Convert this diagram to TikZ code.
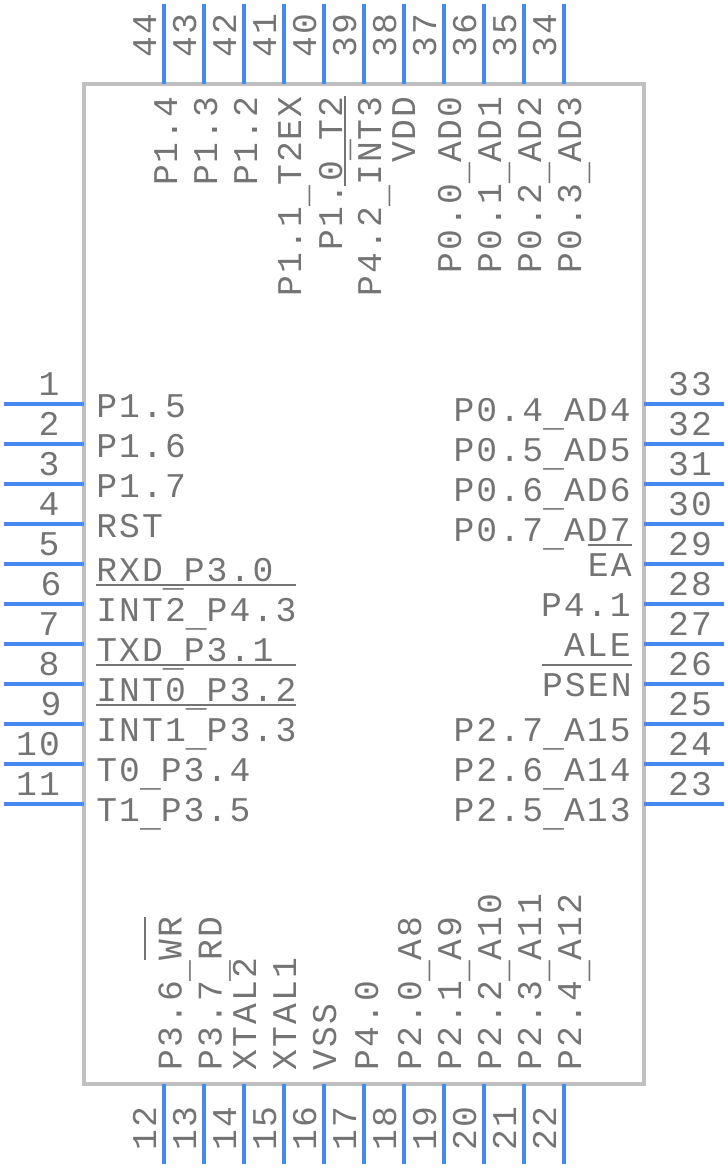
\documentclass[tikz,border=0pt]{standalone}
\usepackage{fontspec}
\setmainfont[LetterSpace=6.2]{Liberation Mono}
\definecolor{pinblue}{HTML}{4488F0}
\definecolor{bodygray}{HTML}{C0C0C0}
\definecolor{textgray}{HTML}{747474}
\newcommand{\barred}[2][26.5pt]{\setbox0\hbox{#2}\rlap{\raisebox{#1}{\rule{\wd0}{1.5pt}}}\box0}
\newcommand{\lowbar}{\raisebox{-4.3pt}{\_}}

\begin{document}
\begin{tikzpicture}[
    x=0.75pt, y=-0.75pt,
    pin/.style={draw=pinblue, line width=3pt},
    body/.style={draw=bodygray, line width=3pt},
    label/.style={inner sep=0pt, text=textgray, font=\fontsize{26}{30}\selectfont},
    leftlabel/.style={label, anchor=base west},
    rightlabel/.style={label, anchor=base east},
    toplabel/.style={label, anchor=base east, rotate=90},
    botlabel/.style={label, anchor=base west, rotate=90},
    sidenum/.style={label, anchor=base},
    vertnum/.style={label, anchor=base, rotate=90}
]
\useasboundingbox (0,0) rectangle (728,1168);

% Package outline
\coordinate (corner1) at (84,84);
\coordinate (corner2) at (644,1084);
\draw[body] (corner1) rectangle (corner2);

% Left pins
\coordinate (a1) at (4,404); \coordinate (b1) at (84,404); \draw[pin] (a1) -- (b1);
\coordinate (a2) at (4,444); \coordinate (b2) at (84,444); \draw[pin] (a2) -- (b2);
\coordinate (a3) at (4,484); \coordinate (b3) at (84,484); \draw[pin] (a3) -- (b3);
\coordinate (a4) at (4,524); \coordinate (b4) at (84,524); \draw[pin] (a4) -- (b4);
\coordinate (a5) at (4,564); \coordinate (b5) at (84,564); \draw[pin] (a5) -- (b5);
\coordinate (a6) at (4,604); \coordinate (b6) at (84,604); \draw[pin] (a6) -- (b6);
\coordinate (a7) at (4,644); \coordinate (b7) at (84,644); \draw[pin] (a7) -- (b7);
\coordinate (a8) at (4,684); \coordinate (b8) at (84,684); \draw[pin] (a8) -- (b8);
\coordinate (a9) at (4,724); \coordinate (b9) at (84,724); \draw[pin] (a9) -- (b9);
\coordinate (a10) at (4,764); \coordinate (b10) at (84,764); \draw[pin] (a10) -- (b10);
\coordinate (a11) at (4,804); \coordinate (b11) at (84,804); \draw[pin] (a11) -- (b11);

% Bottom pins
\coordinate (a12) at (164,1164); \coordinate (b12) at (164,1084); \draw[pin] (a12) -- (b12);
\coordinate (a13) at (204,1164); \coordinate (b13) at (204,1084); \draw[pin] (a13) -- (b13);
\coordinate (a14) at (244,1164); \coordinate (b14) at (244,1084); \draw[pin] (a14) -- (b14);
\coordinate (a15) at (284,1164); \coordinate (b15) at (284,1084); \draw[pin] (a15) -- (b15);
\coordinate (a16) at (324,1164); \coordinate (b16) at (324,1084); \draw[pin] (a16) -- (b16);
\coordinate (a17) at (364,1164); \coordinate (b17) at (364,1084); \draw[pin] (a17) -- (b17);
\coordinate (a18) at (404,1164); \coordinate (b18) at (404,1084); \draw[pin] (a18) -- (b18);
\coordinate (a19) at (444,1164); \coordinate (b19) at (444,1084); \draw[pin] (a19) -- (b19);
\coordinate (a20) at (484,1164); \coordinate (b20) at (484,1084); \draw[pin] (a20) -- (b20);
\coordinate (a21) at (524,1164); \coordinate (b21) at (524,1084); \draw[pin] (a21) -- (b21);
\coordinate (a22) at (564,1164); \coordinate (b22) at (564,1084); \draw[pin] (a22) -- (b22);

% Right pins
\coordinate (a23) at (724,804); \coordinate (b23) at (644,804); \draw[pin] (a23) -- (b23);
\coordinate (a24) at (724,764); \coordinate (b24) at (644,764); \draw[pin] (a24) -- (b24);
\coordinate (a25) at (724,724); \coordinate (b25) at (644,724); \draw[pin] (a25) -- (b25);
\coordinate (a26) at (724,684); \coordinate (b26) at (644,684); \draw[pin] (a26) -- (b26);
\coordinate (a27) at (724,644); \coordinate (b27) at (644,644); \draw[pin] (a27) -- (b27);
\coordinate (a28) at (724,604); \coordinate (b28) at (644,604); \draw[pin] (a28) -- (b28);
\coordinate (a29) at (724,564); \coordinate (b29) at (644,564); \draw[pin] (a29) -- (b29);
\coordinate (a30) at (724,524); \coordinate (b30) at (644,524); \draw[pin] (a30) -- (b30);
\coordinate (a31) at (724,484); \coordinate (b31) at (644,484); \draw[pin] (a31) -- (b31);
\coordinate (a32) at (724,444); \coordinate (b32) at (644,444); \draw[pin] (a32) -- (b32);
\coordinate (a33) at (724,404); \coordinate (b33) at (644,404); \draw[pin] (a33) -- (b33);

% Top pins
\coordinate (a34) at (564,4); \coordinate (b34) at (564,84); \draw[pin] (a34) -- (b34);
\coordinate (a35) at (524,4); \coordinate (b35) at (524,84); \draw[pin] (a35) -- (b35);
\coordinate (a36) at (484,4); \coordinate (b36) at (484,84); \draw[pin] (a36) -- (b36);
\coordinate (a37) at (444,4); \coordinate (b37) at (444,84); \draw[pin] (a37) -- (b37);
\coordinate (a38) at (404,4); \coordinate (b38) at (404,84); \draw[pin] (a38) -- (b38);
\coordinate (a39) at (364,4); \coordinate (b39) at (364,84); \draw[pin] (a39) -- (b39);
\coordinate (a40) at (324,4); \coordinate (b40) at (324,84); \draw[pin] (a40) -- (b40);
\coordinate (a41) at (284,4); \coordinate (b41) at (284,84); \draw[pin] (a41) -- (b41);
\coordinate (a42) at (244,4); \coordinate (b42) at (244,84); \draw[pin] (a42) -- (b42);
\coordinate (a43) at (204,4); \coordinate (b43) at (204,84); \draw[pin] (a43) -- (b43);
\coordinate (a44) at (164,4); \coordinate (b44) at (164,84); \draw[pin] (a44) -- (b44);

% Pin numbers
\node[sidenum] (n1) at (49,395) {1};
\node[sidenum] (n2) at (49,435) {2};
\node[sidenum] (n3) at (49,475) {3};
\node[sidenum] (n4) at (49,515) {4};
\node[sidenum] (n5) at (49,555) {5};
\node[sidenum] (n6) at (51,595) {6};
\node[sidenum] (n7) at (49,635) {7};
\node[sidenum] (n8) at (49,675) {8};
\node[sidenum] (n9) at (51,715) {9};
\node[sidenum] (n10) at (38,755) {10};
\node[sidenum] (n11) at (38,795) {11};
\node[vertnum] (n12) at (156,1129) {12};
\node[vertnum] (n13) at (196,1129) {13};
\node[vertnum] (n14) at (236,1129) {14};
\node[vertnum] (n15) at (276,1129) {15};
\node[vertnum] (n16) at (316,1129) {16};
\node[vertnum] (n17) at (356,1129) {17};
\node[vertnum] (n18) at (396,1129) {18};
\node[vertnum] (n19) at (436,1129) {19};
\node[vertnum] (n20) at (476,1129) {20};
\node[vertnum] (n21) at (516,1129) {21};
\node[vertnum] (n22) at (556,1129) {22};
\node[sidenum] (n23) at (690,795) {23};
\node[sidenum] (n24) at (690,755) {24};
\node[sidenum] (n25) at (690,715) {25};
\node[sidenum] (n26) at (690,675) {26};
\node[sidenum] (n27) at (690,635) {27};
\node[sidenum] (n28) at (690,595) {28};
\node[sidenum] (n29) at (690,555) {29};
\node[sidenum] (n30) at (690,515) {30};
\node[sidenum] (n31) at (690,475) {31};
\node[sidenum] (n32) at (690,435) {32};
\node[sidenum] (n33) at (690,395) {33};
\node[vertnum] (n34) at (556,36) {34};
\node[vertnum] (n35) at (516,36) {35};
\node[vertnum] (n36) at (476,36) {36};
\node[vertnum] (n37) at (436,36) {37};
\node[vertnum] (n38) at (396,36) {38};
\node[vertnum] (n39) at (356,36) {39};
\node[vertnum] (n40) at (316,36) {40};
\node[vertnum] (n41) at (276,36) {41};
\node[vertnum] (n42) at (236,36) {42};
\node[vertnum] (n43) at (196,36) {43};
\node[vertnum] (n44) at (156,36) {44};

% Left labels
\node[leftlabel] (p1) at (96,417) {P1.5};
\node[leftlabel] (p2) at (96,457) {P1.6};
\node[leftlabel] (p3) at (96,497) {P1.7};
\node[leftlabel] (p4) at (96,537) {RST};
\node[leftlabel] (p5) at (96,581) {RXD\lowbar P3.0};
\node[leftlabel] (p6) at (96,621) {\barred{INT2\lowbar P4.3}};
\node[leftlabel] (p7) at (96,661) {TXD\lowbar P3.1};
\node[leftlabel] (p8) at (96,701) {\barred{INT0\lowbar P3.2}};
\node[leftlabel] (p9) at (96,741) {\barred{INT1\lowbar P3.3}};
\node[leftlabel] (p10) at (96,781) {T0\lowbar P3.4};
\node[leftlabel] (p11) at (96,821) {T1\lowbar P3.5};

% Bottom labels
\node[botlabel] (p12) at (181.5,1071) {P3.6\lowbar\barred{WR}};
\node[botlabel] (p13) at (221.5,1071) {P3.7\lowbar RD};
\node[botlabel] (p14) at (256,1071) {XTAL2};
\node[botlabel] (p15) at (296,1071) {XTAL1};
\node[botlabel] (p16) at (336,1071) {VSS};
\node[botlabel] (p17) at (378,1071) {P4.0};
\node[botlabel] (p18) at (421,1071) {P2.0\lowbar A8};
\node[botlabel] (p19) at (461,1071) {P2.1\lowbar A9};
\node[botlabel] (p20) at (501,1071) {P2.2\lowbar A10};
\node[botlabel] (p21) at (541,1071) {P2.3\lowbar A11};
\node[botlabel] (p22) at (581,1071) {P2.4\lowbar A12};

% Right labels
\node[rightlabel] (p23) at (631,821) {P2.5\lowbar A13};
\node[rightlabel] (p24) at (631,781) {P2.6\lowbar A14};
\node[rightlabel] (p25) at (631,741) {P2.7\lowbar A15};
\node[rightlabel] (p26) at (632,696) {\barred[22.5pt]{PSEN}};
\node[rightlabel] (p27) at (631,656) {ALE};
\node[rightlabel] (p28) at (631,616) {P4.1};
\node[rightlabel] (p29) at (632,576) {\barred[22.5pt]{EA}};
\node[rightlabel] (p30) at (631,541) {P0.7\lowbar AD7};
\node[rightlabel] (p31) at (631,501) {P0.6\lowbar AD6};
\node[rightlabel] (p32) at (631,461) {P0.5\lowbar AD5};
\node[rightlabel] (p33) at (631,421) {P0.4\lowbar AD4};

% Top labels
\node[toplabel] (p34) at (581,96) {P0.3\lowbar AD3};
\node[toplabel] (p35) at (541,96) {P0.2\lowbar AD2};
\node[toplabel] (p36) at (501,96) {P0.1\lowbar AD1};
\node[toplabel] (p37) at (461,96) {P0.0\lowbar AD0};
\node[toplabel] (p38) at (415,96) {VDD};
\node[toplabel] (p39) at (381,96) {P4.2\lowbar\barred{INT3}};
\node[toplabel] (p40) at (342,96) {P1.0\lowbar T2};
\node[toplabel] (p41) at (301,96) {P1.1\lowbar T2EX};
\node[toplabel] (p42) at (257,96) {P1.2};
\node[toplabel] (p43) at (217,96) {P1.3};
\node[toplabel] (p44) at (177,96) {P1.4};

\end{tikzpicture}
\end{document}
